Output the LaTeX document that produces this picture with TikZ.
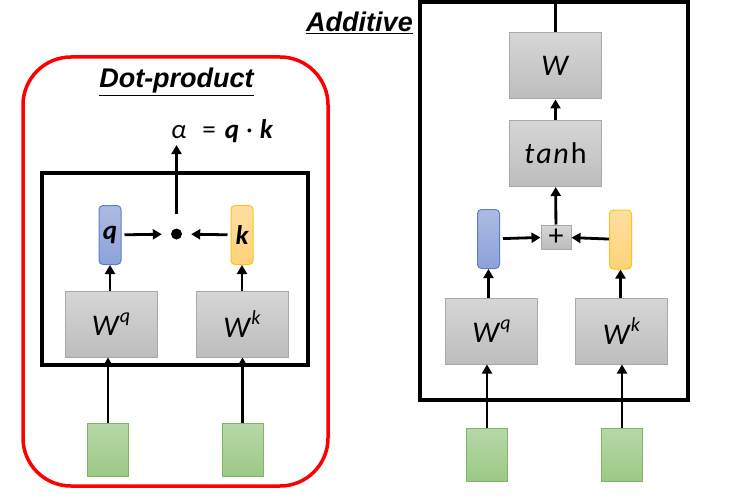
\documentclass[tikz,border=0pt]{standalone}
\usepackage{fontspec}
\setmainfont{Carlito}
\newfontfamily\titlefont{Liberation Sans}
\usetikzlibrary{arrows.meta,positioning}

\definecolor{grayhi}{HTML}{D6D6D6}
\definecolor{graylo}{HTML}{BDBDBD}
\definecolor{grayline}{HTML}{A8A8A8}
\definecolor{bluehi}{HTML}{ADBBE2}
\definecolor{bluelo}{HTML}{8CA2D8}
\definecolor{blueline}{HTML}{5B7FCB}
\definecolor{yellowhi}{HTML}{FFDFA0}
\definecolor{yellowlo}{HTML}{FFD27A}
\definecolor{yellowline}{HTML}{FFC21A}
\definecolor{greenhi}{HTML}{B7D7A8}
\definecolor{greenlo}{HTML}{9CC986}
\definecolor{greenline}{HTML}{80B662}

\newcommand{\wsup}[1]{\raisebox{0.42em}{\fontsize{20}{20}\selectfont\itshape #1}}

\begin{document}
\begin{tikzpicture}[
  x=1pt, y=-1pt,
  frame/.style={draw=black, line width=3.5pt},
  wbox/.style={rectangle, draw=grayline, line width=1pt, top color=grayhi, bottom color=graylo,
    minimum width=92pt, minimum height=66pt, inner sep=0pt, font=\fontsize{30}{34}\selectfont},
  qvec/.style={rectangle, rounded corners=4pt, draw=blueline, line width=1pt, top color=bluehi,
    bottom color=bluelo, minimum width=22pt, minimum height=59pt, inner sep=0pt,
    font=\fontsize{27}{30}\selectfont\bfseries\itshape},
  kvec/.style={qvec, draw=yellowline, top color=yellowhi, bottom color=yellowlo},
  inbox/.style={rectangle, draw=greenline, line width=1pt, top color=greenhi, bottom color=greenlo,
    minimum width=41pt, minimum height=53pt, inner sep=0pt},
  arrow/.style={-{Triangle[length=9pt,width=10pt]}, line width=2.8pt},
  title/.style={font=\titlefont\fontsize{27}{30}\selectfont\bfseries\itshape, anchor=base, inner sep=0pt}
]
  \useasboundingbox (0,0) rectangle (741,500);

  % dot-product
  \draw[red, line width=3.5pt, rounded corners=48pt] (23,57) rectangle (328,486);
  \draw[frame] (42,173) rectangle (308,365);
  \node[title] (dtitle) at (176.5,88) {\underline{Dot-product}};

  \node[wbox] (dWq) at (111,324) {\textit{W}\wsup{q}};
  \node[wbox] (dWk) at (242,324) {\textit{W}\wsup{k}};
  \node[qvec] (dq) at (110,235) {q};
  \node[kvec] (dk) at (242,235) {k};
  \node[circle, fill=black, minimum size=11pt, inner sep=0pt] (dot) at (176.5,234) {};
  \node[inbox] (dinq) at (108,450) {};
  \node[inbox] (dink) at (242.5,450) {};
  \node[anchor=base west, inner sep=0pt, font=\fontsize{27}{30}\selectfont] (eq) at (171,139)
    {\textit{α}\hspace{16pt}=\hspace{9pt}\textbf{\textit{q}}\hspace{7pt}·\hspace{7pt}\textbf{\textit{k}}};
  \coordinate (out) at (176.5,145);

  \draw[arrow] (dinq) -- (dWq.south -| dinq);
  \draw[arrow] (dink) -- (dWk.south -| dink);
  \draw[arrow] (dWq.north -| dq) -- (dq);
  \draw[arrow] (dWk.north -| dk) -- (dk);
  \draw[arrow, shorten <=3pt, shorten >=9pt] (dq) -- (dot);
  \draw[arrow, shorten <=3pt, shorten >=9pt] (dk) -- (dot);
  \draw[arrow, shorten <=14pt] (dot) -- (out);

  % additive
  \draw[frame] (420,2) rectangle (688,400);
  \node[title] (atitle) at (359.5,32) {\underline{Additive}};

  \node[wbox] (aW) at (555.5,66) {\textit{W}};
  \node[wbox] (atanh) at (555.5,153.5) {\textit{t\kern2pt a\kern1.5pt n}\kern2pt h};
  \node[rectangle, draw=grayline, line width=1pt, top color=grayhi, bottom color=graylo,
    minimum width=30pt, minimum height=24pt, inner sep=0pt, font=\fontsize{30}{30}\selectfont]
    (aplus) at (556,237) {+};
  \node[qvec] (aq) at (488.5,239) {};
  \node[kvec] (ak) at (620.5,239.5) {};
  \node[wbox] (aWq) at (491.5,331) {\textit{W}\wsup{q}};
  \node[wbox] (aWk) at (621.5,331) {\textit{W}\wsup{k}};
  \node[inbox] (ainq) at (487,455) {};
  \node[inbox] (aink) at (622,455) {};
  \coordinate (atop) at (555.5,2);

  \draw[arrow] (ainq) -- (aWq.south -| ainq);
  \draw[arrow] (aink) -- (aWk.south -| aink);
  \draw[arrow] (aWq.north -| aq) -- (aq);
  \draw[arrow] (aWk.north -| ak) -- (ak);
  \draw[arrow, shorten <=3pt] (aq) -- (aplus);
  \draw[arrow] (ak) -- (aplus);
  \draw[arrow] (aplus) -- (atanh);
  \draw[arrow] (atanh) -- (aW);
  \draw[line width=2.8pt] (aW) -- (atop);
\end{tikzpicture}
\end{document}
